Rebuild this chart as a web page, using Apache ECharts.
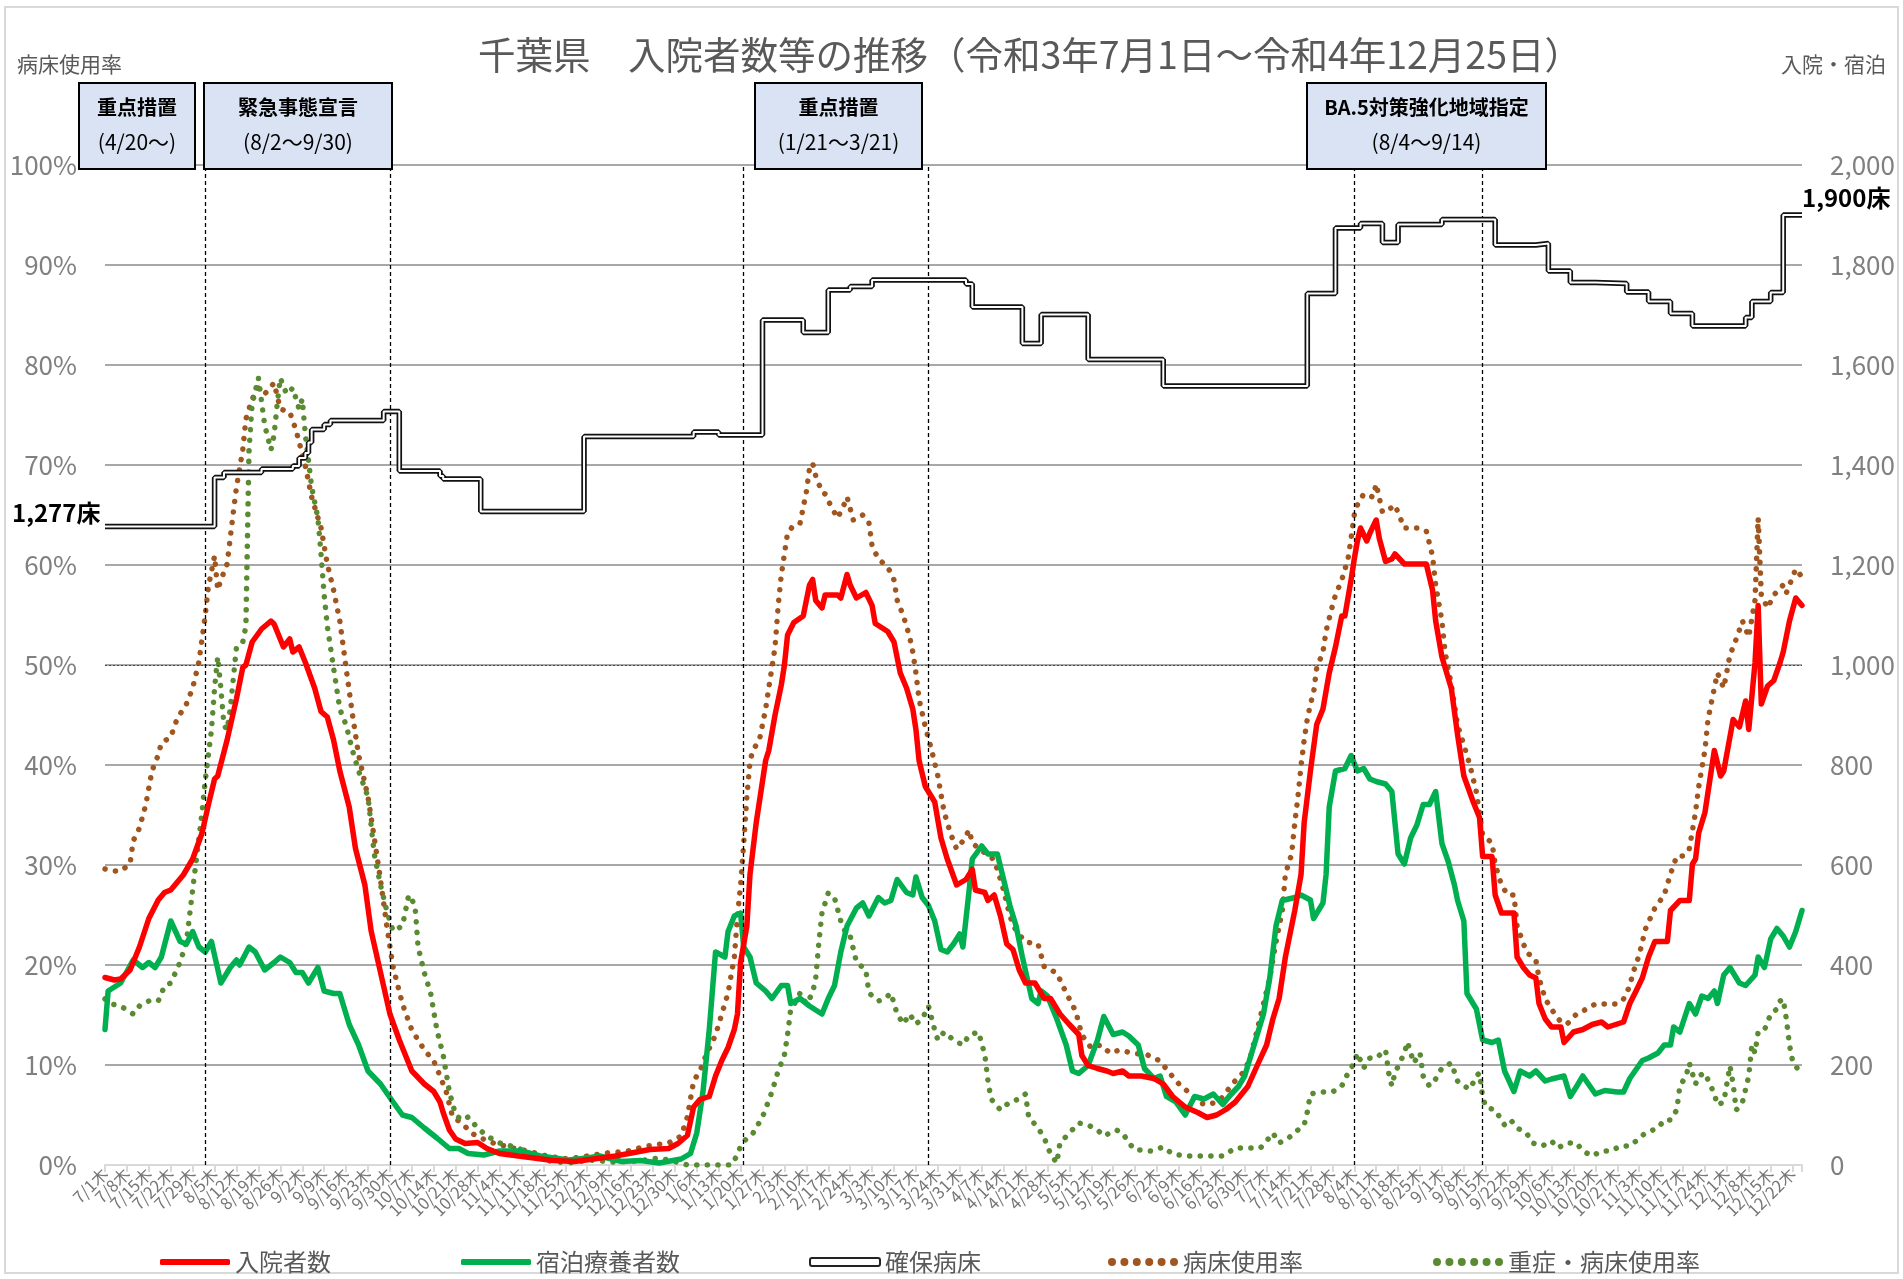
<!DOCTYPE html>
<html><head><meta charset="utf-8">
<script src="https://cdn.jsdelivr.net/npm/echarts@6/dist/echarts.min.js"></script>
<style>html,body{margin:0;padding:0;background:#fff}#c{width:1903px;height:1279px}</style>
</head><body><div id="c"></div>
<script>
// ---- categories: daily, 2021/7/1 .. 2022/12/25 ----
const WEEKDAYS = ['日','月','火','水','木','金','土'];
const N_DAYS = 543;
const LABEL_STEP = 7;   // weekly tick labels (every Thursday)
const categories = [];
for (let i = 0; i < N_DAYS; i++) {
  const d = new Date(2021, 6, 1 + i);
  categories.push((d.getMonth() + 1) + '/' + d.getDate() + WEEKDAYS[d.getDay()]);
}
const leftTicks = [0, 100, 10];      // %
const rightTicks = [0, 2000, 200];   // persons / beds

// ---- series values: [dayIndex, value] ----
const admitted = [[0,375],[3,370],[5,372],[8,390],[11,436],[14,493],[17,530],[19,545],[21,550],[25,580],[28,612],[31,664],[33,720],[35,772],[36,778],[39,850],[42,933],[44,995],[45,1000],[47,1046],[50,1072],[53,1088],[54,1082],[57,1036],[59,1052],[60,1026],[62,1036],[64,1005],[67,953],[69,907],[71,896],[73,850],[75,788],[78,716],[80,633],[83,560],[85,468],[88,385],[91,302],[94,250],[98,188],[102,162],[105,147],[107,126],[108,105],[110,70],[112,52],[115,43],[119,45],[122,33],[126,23],[132,18],[137,14],[143,9],[150,7],[156,12],[163,18],[169,25],[174,31],[180,33],[183,43],[186,59],[188,116],[190,131],[193,137],[195,178],[197,209],[199,235],[201,271],[202,302],[203,405],[205,478],[206,581],[208,685],[211,809],[212,829],[214,900],[216,960],[217,1000],[218,1060],[220,1085],[223,1098],[225,1160],[226,1171],[227,1129],[229,1114],[230,1140],[234,1140],[235,1134],[237,1181],[238,1160],[240,1134],[243,1145],[245,1119],[246,1083],[250,1067],[252,1046],[254,984],[256,954],[258,912],[259,871],[260,809],[262,757],[265,726],[267,654],[269,612],[272,560],[275,571],[277,591],[278,550],[281,545],[282,529],[284,540],[286,498],[288,442],[290,431],[292,390],[294,364],[297,364],[300,333],[302,333],[305,302],[308,281],[311,261],[312,219],[314,199],[317,193],[320,188],[322,183],[325,188],[327,178],[331,178],[335,173],[338,162],[341,137],[345,116],[349,105],[352,95],[355,100],[358,111],[361,126],[365,157],[368,199],[371,240],[373,292],[375,333],[377,416],[380,509],[382,581],[383,685],[385,788],[387,881],[389,912],[391,984],[393,1036],[395,1098],[396,1098],[398,1171],[399,1212],[400,1248],[401,1274],[403,1248],[404,1264],[406,1290],[407,1253],[409,1207],[411,1212],[412,1222],[415,1202],[422,1202],[424,1150],[425,1088],[427,1016],[430,953],[432,860],[434,778],[437,726],[439,695],[440,617],[443,617],[444,540],[446,504],[450,504],[451,416],[453,395],[455,380],[457,374],[458,323],[460,292],[462,276],[465,276],[466,245],[469,266],[472,271],[475,281],[478,286],[480,276],[485,286],[487,323],[489,348],[491,374],[493,416],[495,447],[499,447],[500,509],[503,529],[506,529],[507,602],[508,612],[509,664],[511,705],[513,788],[514,829],[516,778],[517,788],[520,891],[522,876],[524,928],[525,871],[527,1005],[528,1119],[529,922],[531,958],[533,969],[535,1005],[536,1026],[538,1088],[540,1134],[542,1119]];

const hotel = [[0,271],[1,348],[5,364],[9,410],[12,395],[14,405],[16,395],[18,416],[21,488],[24,447],[26,442],[28,467],[30,436],[32,426],[34,447],[37,364],[40,395],[42,410],[43,400],[46,436],[48,426],[51,390],[54,405],[56,416],[59,405],[61,385],[63,385],[65,364],[68,395],[70,348],[73,343],[75,343],[78,281],[81,240],[84,188],[88,162],[92,126],[95,100],[98,95],[102,74],[106,54],[110,33],[113,33],[116,23],[121,20],[126,28],[133,28],[139,18],[148,10],[154,14],[158,18],[165,7],[171,9],[177,4],[184,12],[187,23],[189,64],[191,147],[193,271],[195,426],[198,416],[199,467],[201,498],[203,504],[204,436],[206,416],[208,364],[211,348],[213,333],[216,359],[218,359],[219,323],[222,333],[225,318],[229,302],[231,333],[233,359],[235,426],[237,478],[240,514],[242,524],[244,498],[247,535],[249,524],[251,529],[253,571],[256,545],[258,540],[259,576],[261,535],[263,519],[265,488],[267,431],[269,426],[271,442],[273,462],[274,436],[276,550],[277,612],[280,638],[282,622],[285,622],[287,571],[289,519],[291,478],[293,416],[296,333],[298,323],[299,348],[301,338],[304,292],[307,240],[309,188],[311,183],[314,199],[317,250],[319,297],[322,261],[325,266],[327,258],[330,240],[332,193],[335,173],[337,178],[339,137],[342,126],[345,100],[348,137],[351,132],[354,142],[357,121],[359,137],[362,157],[364,178],[367,240],[370,302],[372,374],[374,478],[376,529],[380,535],[382,540],[385,530],[386,493],[389,524],[390,581],[391,716],[393,788],[396,793],[398,819],[400,788],[402,793],[404,772],[406,767],[409,762],[411,747],[413,622],[415,602],[417,654],[419,680],[421,721],[423,721],[425,747],[427,643],[429,607],[431,560],[432,529],[434,488],[435,343],[438,312],[440,250],[443,245],[445,250],[447,188],[450,147],[452,188],[455,178],[457,188],[460,168],[462,172],[466,178],[468,137],[470,157],[472,178],[476,142],[479,149],[483,146],[485,146],[487,173],[491,209],[493,214],[496,224],[498,240],[500,240],[501,276],[503,266],[506,323],[508,302],[510,338],[512,333],[514,348],[515,323],[517,380],[519,395],[522,364],[524,359],[527,380],[528,416],[530,395],[532,452],[534,473],[536,458],[538,436],[540,467],[542,509]];

const beds = [[0,1277],[35,1375],[38,1385],[50,1392],[60,1398],[62,1414],[64,1424],[65,1445],[66,1471],[70,1481],[72,1489],[89,1507],[94,1388],[107,1378],[108,1372],[120,1307],[153,1457],[188,1466],[196,1460],[210,1690],[223,1665],[231,1750],[238,1757],[245,1770],[275,1762],[277,1716],[293,1643],[299,1701],[314,1611],[338,1558],[384,1743],[393,1874],[401,1883],[408,1845],[413,1881],[427,1891],[444,1840],[457,1843],[461,1788],[468,1765],[476,1763],[486,1746],[493,1727],[500,1703],[507,1678],[524,1695],[526,1727],[532,1745],[536,1900],[542,1900]];

const occupancy = [[0,29.6],[3,29.4],[5,29.4],[8,30.1],[9,32.4],[11,33.7],[13,36],[15,39.4],[17,41],[18,42.2],[21,42.8],[23,44.6],[26,46.1],[28,47.7],[30,50.3],[31,52.6],[32,54.9],[33,57.8],[35,60.9],[36,57.5],[37,58.5],[39,60.1],[40,62.7],[41,65.3],[42,67.8],[44,71.5],[45,74.6],[47,76.6],[49,77.7],[51,77.1],[54,78.2],[56,75.6],[59,75.3],[61,73.5],[64,69.9],[66,66.8],[69,63.7],[71,60.1],[73,57.5],[75,54.4],[77,49.7],[79,45.1],[81,41],[84,36.8],[86,32.7],[88,28.5],[90,23.9],[92,19.8],[95,16.1],[98,13.5],[102,11.5],[105,10.4],[107,8.9],[109,7.3],[111,4.8],[114,4.2],[117,3.2],[120,2.7],[124,2.2],[130,1.7],[135,1.4],[141,0.9],[148,0.6],[154,0.9],[160,1.2],[167,1.4],[173,1.9],[180,2.2],[184,2.9],[186,4.8],[188,8.4],[190,9.4],[192,11],[195,13],[197,15.1],[199,17.2],[201,20.8],[202,24.9],[203,28],[204,32.2],[205,36.8],[206,40.4],[207,41.5],[209,42.5],[211,45.6],[212,47.7],[213,49.7],[214,51.8],[215,55.9],[216,59],[217,61.1],[218,63.2],[220,64],[222,64.2],[224,67.3],[225,69.6],[226,70.2],[227,68.9],[229,67.3],[230,67.1],[232,65.8],[234,64.7],[236,66],[237,66.8],[239,64.5],[242,65],[244,64.2],[245,61.9],[247,60.6],[250,59.8],[252,58.5],[253,56.5],[255,54.9],[257,52.8],[258,51.3],[259,49.2],[260,46.6],[262,43.8],[264,41.5],[266,38.9],[268,35.3],[270,33.2],[272,31.6],[274,32.4],[276,33.5],[277,32.2],[280,31.4],[283,30.9],[285,29.6],[287,27.5],[289,24.9],[291,23.4],[294,22.3],[298,22.1],[300,19.8],[304,19.2],[307,17.2],[310,15.4],[312,13],[315,11.7],[318,12],[321,11.2],[324,11.5],[328,11.2],[333,11],[337,10.4],[340,9.2],[343,8.1],[346,7.3],[349,6.3],[352,6],[355,6.3],[357,6.8],[360,8.1],[364,9.4],[366,11],[368,13.5],[370,16.1],[372,18.7],[374,22.3],[376,25.4],[377,29.1],[379,31.1],[380,34.2],[381,36.8],[382,39.9],[383,42.5],[384,44.6],[385,46.1],[386,47.2],[387,49.7],[389,51.3],[390,53.4],[392,55.9],[393,57],[395,58.5],[397,60.6],[398,62.7],[399,65],[400,66],[402,67.1],[405,66.8],[406,68.1],[408,65.3],[409,65.3],[412,66],[415,63.7],[419,63.7],[422,63.4],[424,60.9],[425,58],[427,54.4],[428,51.3],[430,48],[432,44],[434,42],[436,39.9],[438,37.3],[440,33],[443,32.2],[444,30.1],[446,28],[448,27],[450,27],[451,23.9],[454,21.3],[457,20.5],[458,18.7],[460,16.6],[463,15.1],[465,14.3],[467,14.1],[470,15.1],[472,15.4],[476,16.1],[483,16.1],[485,16.6],[487,17.9],[488,19.2],[490,21],[492,23.6],[495,25.7],[498,27],[500,29.1],[502,30.9],[504,30.9],[506,31.6],[508,35.3],[509,37.8],[511,41.5],[512,44.6],[514,47.7],[515,49.2],[517,47.7],[519,51],[521,52.6],[523,54.4],[525,52.8],[527,56.5],[528,64.7],[529,57],[531,55.7],[533,57],[536,58],[537,57.2],[540,59.6],[542,58.8]];

const severe = [[0,16.6],[2,16.1],[5,15.9],[9,15.1],[11,15.9],[14,16.4],[17,16.4],[19,17.9],[21,18.2],[24,20.3],[26,22.3],[27,24.9],[28,27.5],[29,30.1],[30,32.7],[31,35.3],[32,38.4],[34,43.5],[35,47.7],[36,50.8],[37,47.7],[38,44],[39,43.5],[40,45.6],[41,48.7],[42,51.8],[44,52.3],[45,53.9],[46,71.5],[47,76.1],[49,78.7],[51,74],[53,71.5],[54,73],[55,76.1],[56,78.7],[58,77.1],[60,77.7],[62,75.6],[63,76.6],[64,73],[65,70.4],[66,67.8],[68,64.7],[69,61.1],[70,57],[71,53.9],[73,49.7],[75,45.6],[77,44],[79,41.5],[81,39.4],[84,36.8],[86,31.1],[88,28],[90,25.4],[92,23.4],[95,23.9],[97,27],[99,26],[100,21.8],[102,19.2],[104,17.2],[106,13.5],[108,11],[110,7.3],[112,5],[114,4.5],[116,4.8],[119,3.7],[122,2.9],[126,2.2],[132,1.7],[137,0.9],[142,0.4],[148,0.2],[155,0.5],[162,0.3],[170,0.4],[177,0.7],[184,0.2],[186,0],[200,0],[202,1],[203,1.9],[205,2.7],[207,3.2],[210,4.8],[213,7.3],[215,9.4],[217,11],[218,13],[219,15.6],[221,16.5],[222,17.2],[224,16.1],[226,17.2],[227,18.7],[228,22.3],[229,25.2],[231,27.2],[233,26.7],[235,24.4],[237,22.9],[238,22.9],[240,20.3],[243,19.5],[244,17.2],[247,16.4],[249,16.6],[251,17.2],[253,15.1],[255,14.1],[257,15.1],[259,14.1],[261,14.6],[263,15.9],[265,13.5],[266,12.5],[268,13.3],[271,12.5],[274,12],[276,13],[279,13.3],[281,11],[282,8.4],[283,6.6],[286,5.5],[289,6.3],[292,6.6],[294,7.1],[295,4.8],[298,3.7],[300,2.7],[302,1.1],[304,0.2],[305,2.2],[308,3.2],[311,4.2],[314,4],[317,3.5],[319,2.9],[323,3.5],[325,3.2],[327,2.2],[329,1.5],[332,1.5],[334,1.4],[338,1.8],[341,1.1],[345,0.9],[357,0.9],[361,1.7],[366,1.7],[369,1.7],[371,2.4],[373,3.2],[375,2.2],[378,2.7],[381,3.5],[383,4],[384,5.3],[385,7.1],[388,7.3],[392,7.3],[395,7.9],[397,9.2],[399,10.2],[400,11.2],[402,9.7],[404,10.7],[406,10.7],[409,11.5],[410,9.2],[411,7.9],[412,9.2],[415,11.2],[416,12.3],[418,10.2],[420,11.2],[421,8.9],[423,7.9],[425,8.6],[427,9.7],[430,10.2],[432,8.4],[434,7.9],[436,7.6],[438,8.9],[439,9.2],[440,6.8],[441,5.8],[444,5.5],[447,4],[449,4.5],[451,3.7],[454,3.2],[456,2.2],[459,1.9],[462,2.4],[464,1.7],[467,2.2],[470,2.2],[472,1.4],[475,0.9],[478,1.4],[481,1.4],[484,1.9],[487,1.9],[489,2.4],[492,3.2],[496,3.7],[498,4.5],[500,4.5],[502,5.5],[503,7.9],[505,8.9],[506,10.2],[508,8.1],[509,8.9],[511,9.2],[514,7.1],[515,6],[517,6.3],[519,9.9],[520,8.1],[521,5.5],[523,6.3],[525,8.9],[526,12],[527,11.2],[528,13.3],[530,13.5],[532,15.1],[534,15.6],[535,16.4],[536,16.6],[537,14.6],[538,12],[539,10.4],[541,9.4],[542,9]];

// measure periods (day index of dashed lines) and box texts
const periodDays = [32, 91, 204, 263, 399, 440];
const boxTitles = ['重点措置', '緊急事態宣言', '重点措置', 'BA.5対策強化地域指定'];
const boxRanges = ['(4/20～)', '(8/2～9/30)', '(1/21～3/21)', '(8/4～9/14)'];
const seriesNames = ['入院者数', '宿泊療養者数', '確保病床', '病床使用率', '重症・病床使用率'];

const FONT = '"Noto Sans CJK JP","Noto Sans",sans-serif';
const chart = echarts.init(document.getElementById('c'), null, {renderer: 'canvas'});

const boxGeom = [[79,83,116,86],[204,83,188,86],[755,83,167,86],[1307,83,239,86]];
const graphics = [];
graphics.push({type:'rect', shape:{x:5,y:7,width:1893,height:1266}, style:{fill:'none', stroke:'#d9d9d9', lineWidth:2}, silent:true});
boxGeom.forEach((b, i) => {
  graphics.push({type:'rect', shape:{x:b[0],y:b[1],width:b[2],height:b[3]}, style:{fill:'#dae3f3', stroke:'#000', lineWidth:2}, z:100});
  graphics.push({type:'text', x:b[0]+b[2]/2, y:107, z:101, style:{text:boxTitles[i], fill:'#000', font:'bold 20px '+FONT, align:'center', verticalAlign:'middle'}});
  graphics.push({type:'text', x:b[0]+b[2]/2, y:142, z:101, style:{text:boxRanges[i], fill:'#000', font:'21px '+FONT, align:'center', verticalAlign:'middle'}});
});
graphics.push({type:'text', x:17, y:64, style:{text:'病床使用率', fill:'#595959', font:'21px '+FONT, align:'left', verticalAlign:'middle'}});
graphics.push({type:'text', x:1886, y:64, style:{text:'入院・宿泊', fill:'#595959', font:'21px '+FONT, align:'right', verticalAlign:'middle'}});
graphics.push({type:'text', x:12, y:513, style:{text:'1,277床', fill:'#000', font:'bold 24px '+FONT, align:'left', verticalAlign:'middle'}});
graphics.push({type:'text', x:1802, y:198, style:{text:'1,900床', fill:'#000', font:'bold 24px '+FONT, align:'left', verticalAlign:'middle'}});

const DOTS = 'path://M0,4a4,4 0 1,0 8,0a4,4 0 1,0 -8,0M12.4,4a4,4 0 1,0 8,0a4,4 0 1,0 -8,0M24.8,4a4,4 0 1,0 8,0a4,4 0 1,0 -8,0M37.2,4a4,4 0 1,0 8,0a4,4 0 1,0 -8,0M49.6,4a4,4 0 1,0 8,0a4,4 0 1,0 -8,0M62,4a4,4 0 1,0 8,0a4,4 0 1,0 -8,0';
const legendLeft = [160, 461, 809, 1108, 1433];
const legendIcons = [
  {icon:'roundRect', h:6, itemStyle:{color:'#ff0000', borderWidth:0}},
  {icon:'roundRect', h:6, itemStyle:{color:'#00b050', borderWidth:0}},
  {icon:'roundRect', h:8, itemStyle:{color:'#ffffff', borderColor:'#222', borderWidth:2}},
  {icon:DOTS, h:8, itemStyle:{color:'#a0561e', borderWidth:0}},
  {icon:DOTS, h:8, itemStyle:{color:'#5a8a32', borderWidth:0}}
];
const legends = seriesNames.map((n, i) => ({
  left: legendLeft[i], top: 1250, padding: 0, itemWidth: 70, itemHeight: legendIcons[i].h,
  textStyle: {fontSize: 24, color: '#595959', fontFamily: FONT},
  data: [{name: n, icon: legendIcons[i].icon, itemStyle: legendIcons[i].itemStyle}]
}));

const dotStyle = (color) => ({color, width: 5.5, type: [0.1, 10.5], cap: 'round'});

chart.setOption({
  animation: false,
  textStyle: {fontFamily: FONT},
  title: {text: '千葉県　入院者数等の推移（令和3年7月1日～令和4年12月25日）', left: 478, top: 36, padding: 0,
    textStyle: {fontSize: 37.5, fontWeight: 'normal', color: '#595959', fontFamily: FONT}},
  legend: legends,
  grid: {left: 105, right: 101, top: 165, bottom: 114, containLabel: false, outerBoundsMode: 'none'},
  xAxis: {type: 'category', data: categories, boundaryGap: false,
    axisLine: {lineStyle: {color: '#d9d9d9', width: 2}},
    axisTick: {interval: LABEL_STEP - 1, length: 7, lineStyle: {color: '#d9d9d9', width: 2}},
    axisLabel: {interval: 0, rotate: 45, fontSize: 16.5, color: '#767676', margin: 6, fontFamily: FONT,
      hideOverlap: false,
      formatter: (val, idx) => (idx % LABEL_STEP === 0 ? val : '')},
    splitLine: {show: false}},
  yAxis: [
    {type: 'value', min: leftTicks[0], max: leftTicks[1], interval: leftTicks[2],
      axisLabel: {formatter: '{value}%', fontSize: 26, color: '#808080', margin: 28, fontFamily: FONT},
      axisLine: {show: false}, axisTick: {show: false},
      splitLine: {show: true, showMinLine: false, lineStyle: {color: '#a8a8a8', width: 2}}},
    {type: 'value', min: rightTicks[0], max: rightTicks[1], interval: rightTicks[2], position: 'right',
      axisLabel: {fontSize: 26, color: '#808080', margin: 28, fontFamily: FONT},
      axisLine: {show: false}, axisTick: {show: false}, splitLine: {show: false}}
  ],
  graphic: graphics,
  series: [
    {name: seriesNames[3], type: 'line', yAxisIndex: 0, data: occupancy, symbol: 'none', z: 3,
      lineStyle: dotStyle('#a0561e'),
      markLine: {silent: true, symbol: 'none', label: {show: false},
        data: [{yAxis: 50, lineStyle: {color: '#ff0000', width: 1.2, type: [2, 2]}}]
          .concat(periodDays.map(d => ({xAxis: d, lineStyle: {color: '#000', width: 1.3, type: [4, 3]}})))}},
    {name: seriesNames[4], type: 'line', yAxisIndex: 0, data: severe, symbol: 'none', z: 3,
      lineStyle: dotStyle('#5a8a32')},
    {name: seriesNames[1], type: 'line', yAxisIndex: 1, data: hotel, symbol: 'none', z: 4,
      lineStyle: {color: '#00b050', width: 5.5, join: 'round', cap: 'round'}},
    {name: seriesNames[0], type: 'line', yAxisIndex: 1, data: admitted, symbol: 'none', z: 5,
      lineStyle: {color: '#ff0000', width: 5.5, join: 'round', cap: 'round'}},
    {name: seriesNames[2], type: 'line', yAxisIndex: 1, data: beds, step: 'end', symbol: 'none', z: 6,
      lineStyle: {color: '#111', width: 5.5}},
    {name: seriesNames[2] + '(内側)', type: 'line', yAxisIndex: 1, data: beds, step: 'end', symbol: 'none', z: 7,
      silent: true, lineStyle: {color: '#fff', width: 2}}
  ]
});
</script>
</body></html>
